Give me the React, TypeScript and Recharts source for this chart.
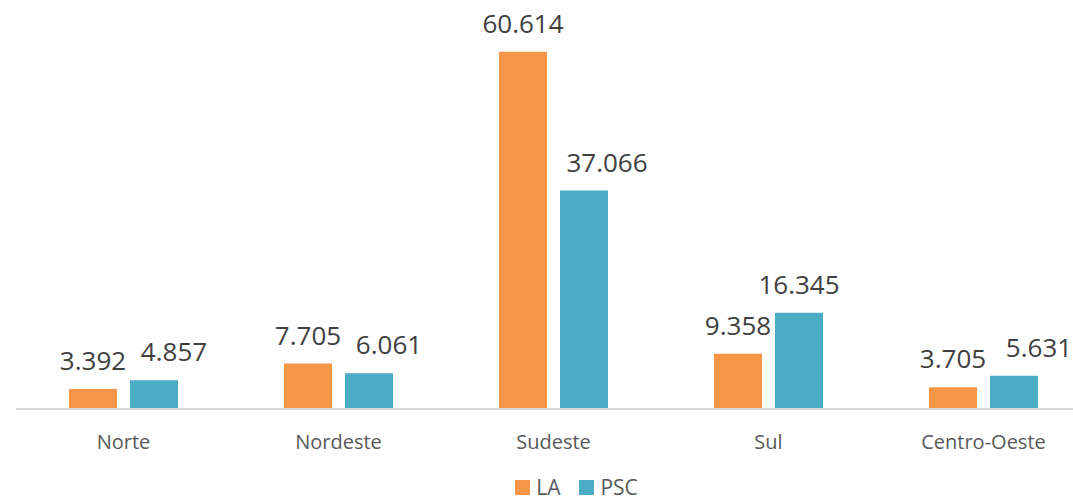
import { BarChart, Bar, XAxis, YAxis, LabelList, Legend } from 'recharts';

const regions = ['Norte', 'Nordeste', 'Sudeste', 'Sul', 'Centro-Oeste'];
const laValues = [3.392, 7.705, 60.614, 9.358, 3.705];
const pscValues = [4.857, 6.061, 37.066, 16.345, 5.631];

// PSC labels were nudged right in the original to avoid overlapping LA labels
const pscLabelShift = [20, 20, 23, 0, 25];

const LA_COLOR = '#F79646';
const PSC_COLOR = '#4BACC6';
const FONT = '"Open Sans", sans-serif';

const data = regions.map((region, i) => ({ region, LA: laValues[i], PSC: pscValues[i] }));

const fmt = (v: number) => v.toFixed(3);

const makeLabel = (shift: number[]) => (props: any) => {
  const { x, y, width, value, index } = props;
  const dx = shift[index] || 0;
  return (
    <text
      x={Number(x) + Number(width) / 2 + dx}
      y={Number(y) - 19}
      textAnchor="middle"
      fill="#404040"
      fontSize={26}
      fontFamily={FONT}
    >
      {fmt(Number(value))}
    </text>
  );
};

function LegendContent() {
  const items = [
    { name: 'LA', color: LA_COLOR },
    { name: 'PSC', color: PSC_COLOR },
  ];
  return (
    <div style={{ position: 'relative', top: -4, display: 'flex', justifyContent: 'center', height: 24, alignItems: 'center', fontFamily: FONT, fontSize: 21, lineHeight: '22px', color: '#595959' }}>
      {items.map((it) => (
        <div key={it.name} style={{ display: 'flex', alignItems: 'center', marginRight: 19 }}>
          <span style={{ width: 15, height: 15, background: it.color, display: 'inline-block', marginRight: 6 }} />
          <span>{it.name}</span>
        </div>
      ))}
    </div>
  );
}

export default function App() {
  return (
    <div style={{ position: 'absolute', left: 0, top: 0, width: 1073, height: 503, overflow: 'hidden', background: '#fff' }}>
      <BarChart
        width={1095}
        height={503}
        data={data}
        margin={{ top: 20, right: 4, bottom: 0, left: 16 }}
        barSize={48}
        barGap={13}
      >
        <XAxis
          dataKey="region"
          height={70}
          tickLine={false}
          tickSize={0}
          tickMargin={26}
          axisLine={{ stroke: '#D9D9D9', strokeWidth: 2 }}
          tick={{ fill: '#595959', fontSize: 20, fontFamily: FONT }}
        />
        <YAxis hide domain={[0, 66]} />
        <Legend
          verticalAlign="bottom"
          content={<LegendContent />}
          wrapperStyle={{ left: 486, width: 200 }}
        />
        <Bar dataKey="LA" fill={LA_COLOR} isAnimationActive={false}>
          <LabelList dataKey="LA" content={makeLabel([])} />
        </Bar>
        <Bar dataKey="PSC" fill={PSC_COLOR} isAnimationActive={false}>
          <LabelList dataKey="PSC" content={makeLabel(pscLabelShift)} />
        </Bar>
      </BarChart>
    </div>
  );
}
